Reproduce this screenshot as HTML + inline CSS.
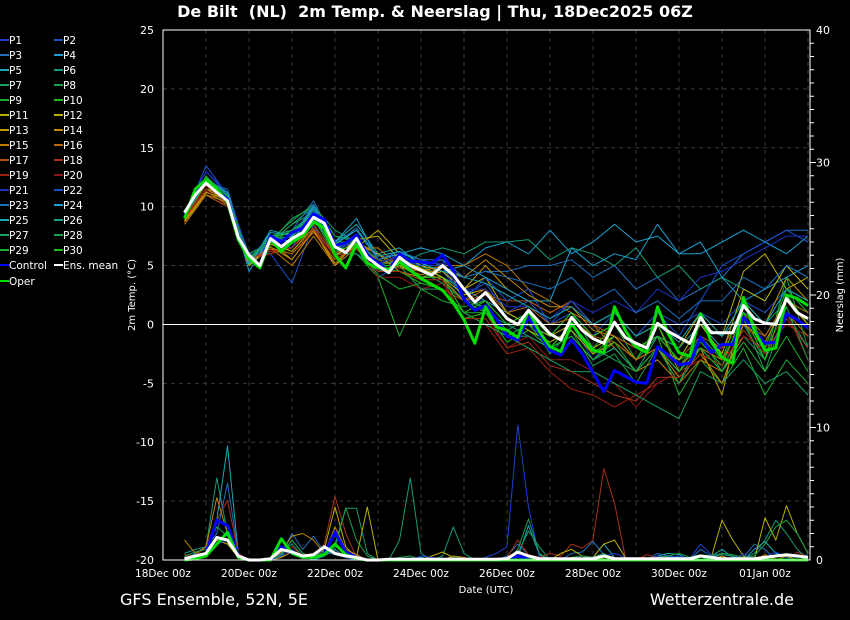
<!DOCTYPE html>
<html><head><meta charset="utf-8">
<style>
html,body{margin:0;padding:0;background:#000;}
svg{display:block;font-family:"DejaVu Sans","Liberation Sans",sans-serif;}
</style></head>
<body>
<svg id="chart" width="850" height="620" viewBox="0 0 850 620" xmlns="http://www.w3.org/2000/svg">
<rect x="0" y="0" width="850" height="620" fill="#000"/>
<text x="435" y="17" fill="#fff" font-size="16" font-weight="bold" text-anchor="middle">De Bilt &#160;(NL) &#160;2m Temp. &amp; Neerslag | Thu, 18Dec2025 06Z</text>
<g id="grid"></g>
<g id="precip"></g>
<g id="temps"></g>
<g id="axes"></g>
<g id="legend"></g>
<text x="486" y="593" fill="#fff" font-size="10" text-anchor="middle">Date (UTC)</text>
<text transform="translate(135,295) rotate(-90)" fill="#fff" font-size="10" text-anchor="middle">2m Temp. (°C)</text>
<text transform="translate(843,295) rotate(-90)" fill="#fff" font-size="10" text-anchor="middle">Neerslag (mm)</text>
<text x="120" y="605" fill="#fff" font-size="16">GFS Ensemble, 52N, 5E</text>
<text x="794" y="605" fill="#fff" font-size="16" text-anchor="end">Wetterzentrale.de</text>
</svg>
<script>
// ---- data ----
const xTickLabels = ["18Dec 00z","20Dec 00z","22Dec 00z","24Dec 00z","26Dec 00z","28Dec 00z","30Dec 00z","01Jan 00z"];
const tempTicks = [25,20,15,10,5,0,-5,-10,-15,-20];
const precipTicks = [0,10,20,30,40];
// ens mean, control, oper: 6-hourly from 18Dec 12Z (step 2) to step 60
const ensMean = [9.5,11,12,11.2,10.5,7.4,5.9,5.0,7.3,6.6,7.3,7.8,9.1,8.6,6.6,6.1,7.3,5.7,5.0,4.4,5.7,5.0,4.6,4.2,5.0,4.2,3.0,1.9,2.7,1.6,0.5,0.0,1.2,0.2,-0.8,-1.3,0.6,-0.5,-1.2,-1.6,0.2,-1.1,-1.6,-2.0,0.1,-0.6,-1.1,-1.6,0.6,-0.7,-0.7,-0.7,1.6,0.5,0.1,0.0,2.2,1.0,0.5];
const control = [9.2,11.2,12.3,11.5,10.6,7.5,5.9,5.0,7.5,7.0,7.8,8.2,9.4,8.9,6.7,6.9,7.6,5.9,5.2,4.6,6.0,5.4,5.3,5.2,5.9,4.6,2.1,1.2,1.6,0.5,-1.0,-1.3,0.6,-0.8,-2.2,-2.6,-1.3,-2.5,-4.1,-5.7,-3.9,-4.4,-4.9,-5.0,-1.9,-2.6,-3.4,-3.3,-1.1,-2.4,-1.7,-1.7,0.6,-0.5,-1.6,-1.5,0.9,0.4,-0.3];
const oper = [9.0,11.5,12.3,11.5,10.4,7.2,5.6,4.8,7.2,6.2,7.0,7.5,8.7,8.2,5.9,4.8,6.8,5.2,4.8,4.7,5.3,4.6,3.9,3.4,2.9,1.8,0.4,-1.6,1.5,-0.2,-0.5,-1.1,1.2,-0.6,-1.9,-2.3,0.1,-1.2,-2.2,-2.4,1.5,-0.5,-1.9,-2.4,1.5,-0.8,-2.4,-2.7,0.9,-1.5,-2.8,-3.3,2.3,-0.5,-2.2,-2.0,2.5,2.2,1.6];
// members: 12-hourly from 18Dec 12Z
const memberNames = ["P1","P2","P3","P4","P5","P6","P7","P9","P11","P13","P15","P17","P19","P20","P22","P24","P26","P27","P28","P30","P8","P10","P12","P14","P16","P18","P21","P23","P25","P29"];
const memberColors = ["#2040c0","#1c50c8","#2070c0","#1aa0d0","#18a8b8","#149a78","#1a9f60","#1aaf30","#b8b000","#c09a00","#c07800","#b05010","#a02010","#901515","#1a50d0","#1aa0d0","#15a080","#18a060","#18a050","#18c018","#1aa04f","#18c018","#c0b000","#c08800","#b86800","#a83018","#1a30c0","#1a70c0","#18a8b0","#18b030"];
const memberVals = [
[9.5,12.5,11,5.5,7.5,7,9.5,6,7.5,5,6,5,5,2,2,-1,0,-2,0,-3,-1,-3,-1,-2,0,-1,2,0,3,1],
[9,13.5,11,6,6,3.5,8.5,5,6.5,4,5,4,4.5,2.5,3.5,1,2,0,1,-1,1,-1,1,0,1,0,2,1,3,2],
[9.3,12,11.5,5.5,7.5,8,10.5,7,8,5.5,6,5.5,5,4,4.5,4.5,5,5,5.5,4,5,3,4,2,3,4,6,7,8,8],
[9,12,11,5,7,7.5,10,7,7,5.5,6,5,4.5,5,6.5,7,6,8,6,7,8.5,7,7.5,6,6,7,8,7,6,7.5],
[9.5,12.3,11,5,8,7.5,9.5,7,8.5,6,6.5,5,4,3,2,1,0,-1,1,-1,0,-2,-1,-3,0,-2,1,-1,2,0],
[9,12,10.5,6,7,8.5,10,8,7,6,5,6,6.5,6,7,7,7.2,5.5,6.5,6,5,6.5,4,5,3,4,3,2,5,4],
[9,12,10,6,7,9,10,7.5,7,5.5,5,5,4,1,0,-1,-1,-2,-1,-3,-2,-4,-3,-5,-2,-4,-1,-3,1,-2],
[9,12.5,11,5.5,7.5,8,9,6,6,4,-1,3,2,1.5,2,0,1,-1,1,-2,0,-3,-1,-6,-3,-5,-2,-6,-3,-5],
[9,11.5,11,5,6.5,6,8,6,6.5,8,6,5,4.5,3,4,1,0,-1,0,-2,-1,-2,-1,-2,1,-1,4.5,6,3,4],
[9,11.5,10.5,5.5,7,5.5,8,5,7,6,4.5,4,4.5,3,5,3,2,1,2,0,1,-1,0,-4,-2,-6,2,0,4,2],
[8.5,11,10,5,6.5,5,7.5,5,6.5,6.5,5,4.5,5,5,6,5,3,2,1,0,-2,-4,-3,-5,-3,-4,-1,-2,1,-1],
[9,11,10,5.5,6,6.5,8.5,6,7,5,5,4,3,2,2.5,2,2,1,2,0,-1,-2,-1,-3,-1,-2,1,-1,2,0],
[9,12,10.5,5.5,6,7,8,6,6,4.5,5,4,4,1,0,-2.5,-2,-4,-5.5,-6,-7,-6,-5,-4,-3,-2,0,-2,0,-1],
[9,11.5,10,5.5,6.5,6,8,5.5,6.5,4,4,3,3.5,0.5,1,-2,-1,-3,-3,-4,-5,-7,-5,-4,-2,-3,-1,-2,1,-3],
[9.5,13,11,5,7,6.5,9.5,6,6,5,5.5,5,5.5,2,4,2,3,0,2,0,1,-1,1,-1,2,5,6,7,8,7],
[9,12,11,4.5,7.5,7,10,7,9,5.5,6,6.5,6,5,4,3,2,2,6.5,5,6,5.5,8.5,6,7,4,2,3,4,5],
[9,12,11,5,7.5,8,9.5,6.5,7,5,5.5,4,4,3,1,0,-1,-2,-1,-3,-2,-4,-1,-2,0,-1,1,0,2,1],
[9,12,10.5,5.5,7,8,9,6,6,4.5,5,3,3,1,0,-1,-2,-3,-4,-4,-5,-6,-7,-8,-4,-5,-3,-5,-4,-6],
[9.2,12,10.5,5.5,7,8.5,9.5,7,7,5,5,4,4,2,1,-1,0,-2,0,-2,-3,-4,-2,-5,-1,-4,0,-3,4,-2],
[9,12,11,5.5,7.5,7,9.5,6.5,7,5,5,4,4,1,2,0,1,-1,1,-1,0,-2,-1,-3,-2,-3,2,-2,3,1],
[9.3,12.2,11,5.5,7.2,8.8,10.2,7.5,7.2,5,5.5,4.5,3.5,2,1.5,-0.5,0.5,-2.5,-0.5,-3.5,-2.5,-5,-2,-4,-1,-3,0.5,-4,1.5,-3],
[9.1,12.4,10.8,5.2,7.4,7.8,9.2,6.2,6.8,4.8,4.5,3.5,3,0.5,1,-1.5,-0.5,-2,0,-2.5,-1,-3,0,-3.5,-1.5,-3.5,1,-3,2.5,0],
[8.8,11.2,10.6,5,6.8,6.2,8.2,5.8,7.2,7.5,5.5,4.8,4,2.5,3,0.5,-0.5,-1.5,-0.5,-2.5,-1.5,-3,-2,-3,0,-2.5,3,2,5,3],
[8.7,11,10.4,5.3,6.6,5.5,8,5.2,6.8,6,5,4.2,4.8,4,5.5,4,2.5,1.5,1.5,-0.5,-1,-3,-2,-4.5,-2.5,-5,0,-1.5,2,0],
[8.9,11.3,10.2,5.4,6.4,6,7.8,5.5,6.6,5.5,4.8,4.5,3.8,2,3,1,1.5,0,0.5,-1,-1.5,-3,-2,-3.5,-2,-3,0,-1,2,1],
[9,11.8,10.3,5.6,6.2,6.5,8.2,5.8,6.4,4.5,4.5,3.8,3.8,0.5,0.5,-2,-1.5,-3.5,-4,-5,-6,-6.5,-4.5,-4.5,-2.5,-3.5,-0.5,-2.5,0.5,-2],
[9.4,13,11.2,5.6,7.6,6.8,9.8,6.4,7,5.2,5.8,5.2,5.2,3,3,1.5,1.5,0.5,2,1,2,1,3,2,4,4.5,5.5,6.5,7.5,7.5],
[9.2,12.2,11.2,5.2,7.4,7.4,10.2,6.8,8.2,5.5,6.2,5.5,5.5,4,4.5,4,3.5,3,4,2,3,1,2,0.5,2,2,4,3,5,4],
[9.4,12.4,11.2,5.1,7.8,7.6,9.8,6.8,8,5.8,6.2,5.2,4.5,4,3.5,2.5,1.5,0.5,1.5,0,1,-1,0,-1.5,1,-1,2,0,3,2],
[9.1,12.6,10.8,5.6,7.4,7.4,9.6,6.4,6.6,4.2,3,3.5,3,1,1,-1,0,-2,-1,-3,-1.5,-4,-2,-4,-2,-4,-1.5,-4,-1,-4]
];
// precipitation (mm), 6-hourly from step 2
const precipNames = ["P5","P6","P3","P18","P12","P22","P14","P8"];
const precipColors = ["#18a8b8","#149a78","#2070c0","#a83018","#b8b000","#1a40d0","#c08800","#1aa04f"];
const precipVals = [
[0,0.5,1,3,8.6,0.5,0,0,0,0.3,1.5,0.5,0,0.3,0.8,0.2,0,0,0,0,0,0,0.2,0,0,0.3,0.1,0,0,0,0,0.2,2.6,0.4,0,0,0,0,0.2,1.2,0.2,0,0,0,0.3,0.5,0.4,0,0,0.3,0.8,0.2,0,0.8,1.4,0.5,0.2,0.4,0.2],
[0.5,0.8,1,6.2,2,0.2,0,0,0,0.5,1.2,0.3,0,0.5,0.9,3.9,3.9,0.5,0,0,1.5,6.2,0.5,0,0.3,2.5,0.5,0,0,0,0.2,0.5,2.2,1,0,0,0,0,0.2,0.3,0.1,0,0,0,0.1,0.3,0.2,0,0,0.3,0.4,0.3,0.1,0.5,1.5,3,2,0.8,0.1],
[0,0.3,1,2,5.8,0.5,0,0,0,0.5,2,0.8,1.8,0.6,0.4,0.2,0,0,0,0,0,0,0,0,0,0.2,0,0,0,0,0.3,1.2,0.4,0,0,0,0.5,0.6,1.4,0.4,0.2,0,0,0,0.5,0.3,0,0,0.8,0.3,0,0,0.2,1.2,0.8,0,0.3,0.2,0.4],
[0.4,0.3,1,3,4.5,0.5,0,0,0,0.2,1,0.3,0.2,1.2,4.8,2,0.2,0,0,0,0,0,0,0,0,0,0.1,0,0,0,0.2,1.5,0.4,0.2,0.5,0.3,1.2,0.9,1.5,6.9,4.3,0.2,0,0.4,0.2,0,0,0,0,0,0,0,0.2,0.1,0.3,0.1,0,0.6,0.2],
[0.2,0.3,0.5,1.5,1.2,0.2,0,0,0,0.2,0.6,0.3,0.2,0.8,4,1,0.2,4,0,0,0,0,0,0.3,0.6,0.2,0,0,0,0,0,0,0,0,0,0.5,0.8,0.3,0.2,1.2,1.5,0.2,0,0,0,0,0,0,0.3,0.2,3,1.5,0.3,0,3.2,1.5,4.1,2,0.5],
[0,0.3,0.5,1.2,1.5,0.2,0,0,0,0.3,0.8,0.2,0.3,0.8,0.6,0.2,0,0,0,0,0,0,0.3,0.2,0.1,0,0,0,0.2,0.5,1,10.2,4,0.2,0,0,0,0,0.2,0.3,0.5,0.2,0,0,0.3,0.2,0.3,0.1,1.2,0.4,0.1,0,0.5,0,0.2,0.6,0.2,0,0],
[1.5,0.5,1,4.7,2,0.2,0,0,0,0.6,1.8,2,1.5,0.5,2.5,0.8,0.4,0,0,0,0,0,0,0,0,0.3,0.2,0,0,0,0,0.3,0.1,0,0,0,0,0,0.2,0.1,0,0,0,0,0,0,0,0,0,0,0.3,0,0,0,0.4,0,0.3,0,0.2],
[0.3,0.6,0.8,2.5,1.8,0.3,0,0,0,0.4,1.5,0.5,0.2,0.6,1.2,3.9,1.5,0.3,0,0,0.2,0.3,0,0,0,0.2,0,0,0,0,0,0.8,3.1,0.5,0,0,0.2,0.3,0.2,0.5,0.1,0,0,0,0.2,0.3,0.5,0.2,0.4,0.3,0.5,0.4,0.2,0.3,1.2,2.5,3,2,0.5]
];
const precipMean = [0.1,0.3,0.5,1.7,1.5,0.3,0,0,0.1,0.8,0.6,0.3,0.4,1.0,0.5,0.3,0.2,0,0,0.05,0.05,0.05,0.05,0.05,0.05,0.05,0.05,0.05,0.05,0.05,0.1,0.6,0.3,0.1,0.1,0.1,0.1,0.1,0.1,0.3,0.1,0.1,0.1,0.1,0.1,0.1,0.1,0.1,0.3,0.2,0.1,0.1,0.1,0.1,0.2,0.3,0.4,0.3,0.2];
const precipControl = [0,0.2,0.5,3.0,2.6,0.3,0,0,0,1.0,0.5,0.2,0.2,0.4,2.1,0.6,0.2,0,0,0,0,0,0,0,0,0,0,0,0,0,0,0.3,0.1,0,0,0,0,0,0,0,0,0,0,0,0,0,0,0,0,0,0,0,0,0,0,0,0,0,0];
const precipOper = [0,0.1,0.3,1.2,2.1,0.2,0,0,0,1.6,0.5,0.2,0.2,0.4,1.2,0.4,0.1,0,0,0,0,0,0,0,0,0,0,0,0,0,0,0,0,0,0,0,0,0,0,0,0,0,0,0,0,0,0,0,0,0,0,0,0,0,0,0,0,0,0];
const legendNames = ["P1","P2","P3","P4","P5","P6","P7","P8","P9","P10","P11","P12","P13","P14","P15","P16","P17","P18","P19","P20","P21","P22","P23","P24","P25","P26","P27","P28","P29","P30"];
const legendColors = ["#2040c0","#1c50c8","#2070c0","#1aa0d0","#18a8b8","#149a78","#1a9f60","#1aa04f","#1aaf30","#18c018","#b8b000","#c0b000","#c09a00","#c08800","#c07800","#b86800","#b05010","#a83018","#a02010","#901515","#1a30c0","#1a50d0","#1a70c0","#1aa0d0","#18a8b0","#15a080","#18a060","#18a050","#18b030","#18c018"];

// ---- axes ----
const X0=163, DAY=43, TOP=30, BOT=560, RIGHT=810;
const xStep = s => X0 + s*DAY/4;
const yT = t => TOP + (25 - t)*(BOT-TOP)/45;
const yP = p => BOT - p*(BOT-TOP)/40;
const NS="http://www.w3.org/2000/svg";
function mk(tag, attrs, parent){const e=document.createElementNS(NS,tag);for(const k in attrs)e.setAttribute(k,attrs[k]);parent.appendChild(e);return e;}
const grid=document.getElementById('grid'), axes=document.getElementById('axes');
const temps=document.getElementById('temps'), precip=document.getElementById('precip'), legend=document.getElementById('legend');

for(let d=1; X0+d*DAY<RIGHT; d++){
  const g=mk('line',{x1:X0+d*DAY,x2:X0+d*DAY,y1:TOP,y2:BOT,stroke:'#3a3a3a','stroke-dasharray':'4,4','stroke-width':1},grid);
  
  
}
tempTicks.forEach(t=>{
  if(t!==25 && t!==-20 && t!==0){
    const g=mk('line',{x1:X0,x2:RIGHT,y1:yT(t),y2:yT(t),stroke:'#3a3a3a','stroke-dasharray':'4,4','stroke-width':1},grid);
    
    
  }
  const lb=mk('text',{x:154,y:yT(t)+4,fill:'#fff','font-size':11,'text-anchor':'end'},axes);
  lb.textContent=t;
  
  
});
precipTicks.forEach(p=>{
  const lb=mk('text',{x:816,y:yP(p)+4,fill:'#fff','font-size':11},axes);
  lb.textContent=p;
  
  
});
for(let p=1;p<40;p++){
  const tk=mk('line',{x1:RIGHT,x2:RIGHT+(p%10===0?6:4),y1:yP(p),y2:yP(p),stroke:'#fff','stroke-width':1},axes);
  
  
}
xTickLabels.forEach((l,i)=>{
  const lb=mk('text',{x:X0+i*2*DAY,y:577,fill:'#fff','font-size':10.5,'text-anchor':'middle'},axes);
  lb.textContent=l;
  
  
});
const zl=mk('line',{x1:X0,x2:RIGHT,y1:yT(0),y2:yT(0),stroke:'#fff','stroke-width':1},axes);


const fr=mk('path',{d:`M${X0},${TOP}H${RIGHT}V${BOT}H${X0}Z`,fill:'none',stroke:'#fff','stroke-width':1},axes);



function series(vals, stepStart, stepInc, yf, color, w, parent, name){
  const pts=vals.map((v,i)=>xStep(stepStart+i*stepInc).toFixed(1)+','+yf(v).toFixed(1)).join(' ');
  const pl=mk('polyline',{points:pts,fill:'none',stroke:color,'stroke-width':w,'stroke-linejoin':'round'},parent);
  
  
}
precipVals.forEach((v,i)=>series(v,2,1,yP,precipColors[i],1,precip,'precip-'+precipNames[i].toLowerCase()));
series(precipControl,2,1,yP,'#0000ff',3,precip,'precip-control');
series(precipOper,2,1,yP,'#00dd00',3,precip,'precip-oper');
series(precipMean,2,1,yP,'#ffffff',3,precip,'precip-ens-mean');
memberVals.forEach((v,i)=>series(v,2,2,yT,memberColors[i],1,temps,'temp-'+memberNames[i].toLowerCase()));
series(control,2,1,yT,'#0000ff',3,temps,'temp-control');
series(oper,2,1,yT,'#00dd00',3,temps,'temp-oper');
series(ensMean,2,1,yT,'#ffffff',3,temps,'temp-ens-mean');

function legendEntry(name,color,x,y){
  const g=mk('g',{},legend);
  
  
  mk('line',{x1:x,x2:x+9,y1:y,y2:y,stroke:color,'stroke-width':2},g);
  const t=mk('text',{x:x+9,y:y+4,fill:'#fff','font-size':10.5},g);
  t.textContent=name;
}
legendNames.forEach((n,i)=>legendEntry(n,legendColors[i],(i%2)*54,40+Math.floor(i/2)*15));
legendEntry('Control','#0000ff',0,265);
legendEntry('Ens. mean','#ffffff',54,265);
legendEntry('Oper','#00dd00',0,281);
</script>
</body></html>
